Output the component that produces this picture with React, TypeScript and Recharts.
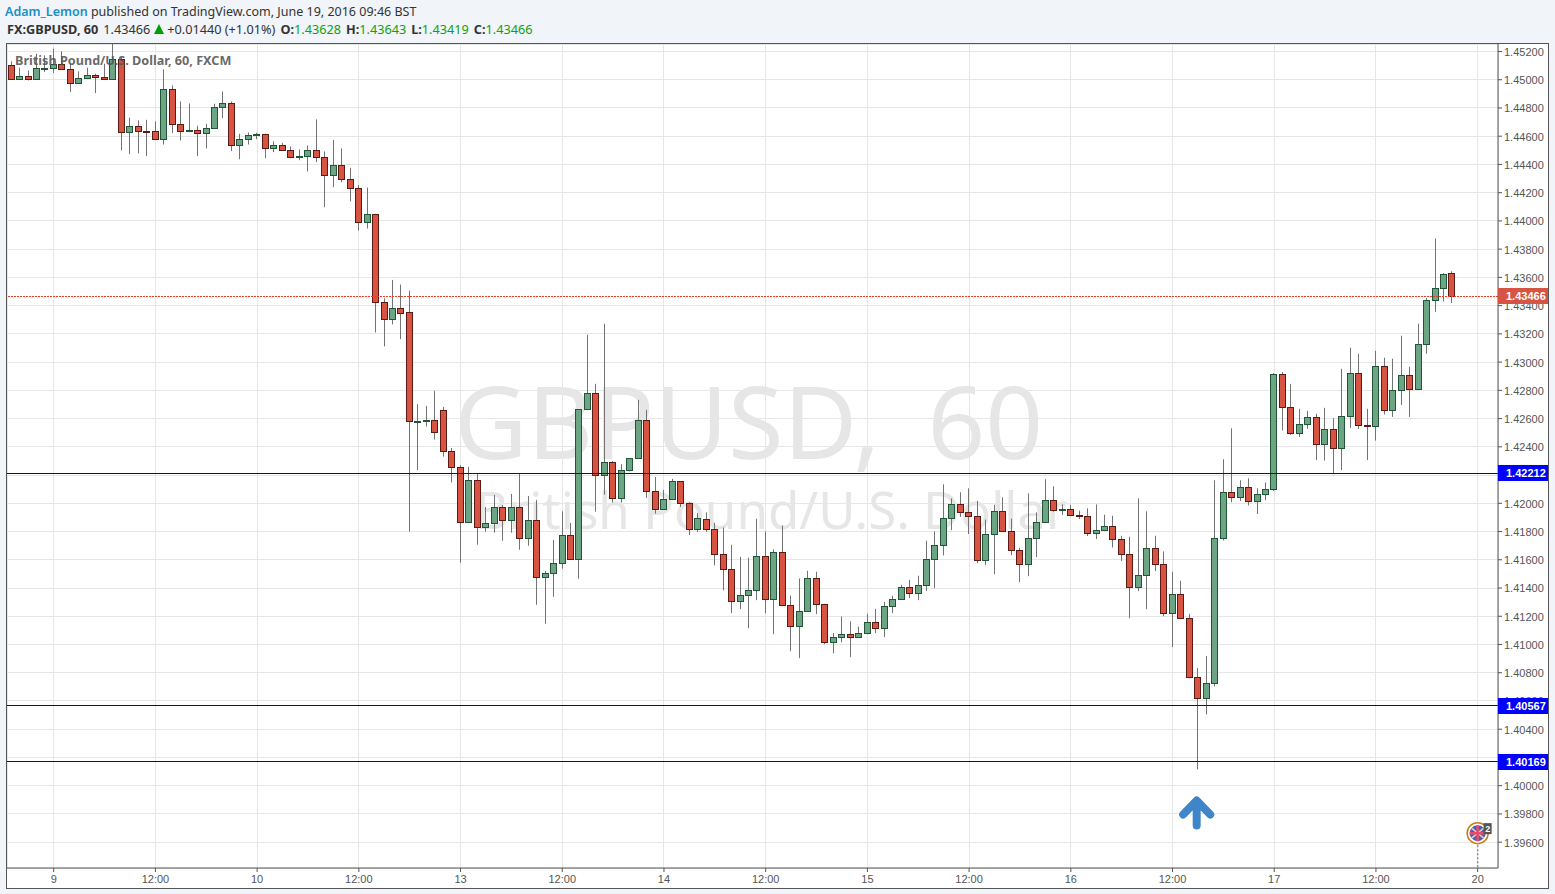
import { ComposedChart, Bar, XAxis, YAxis, CartesianGrid, ReferenceLine, ReferenceDot } from "recharts";

const opens = [
  1.45106, 1.45007, 1.45028, 1.45007, 1.45083, 1.45085, 1.45111, 1.45076, 1.44979, 1.45014, 1.45033, 1.45021, 1.45007, 1.45147, 1.44631, 1.44671, 1.4464, 1.44638, 1.44582, 1.44936,
  1.44688, 1.44638, 1.44643, 1.44622, 1.4466, 1.44809, 1.44837, 1.44539, 1.44582, 1.4461, 1.44617, 1.44518, 1.44539, 1.44504, 1.44454, 1.44461, 1.44504, 1.44454, 1.44326, 1.44397,
  1.44298, 1.44234, 1.43993, 1.4405, 1.43426, 1.43305, 1.43383, 1.43355, 1.42582, 1.4258, 1.42589, 1.4266, 1.42369, 1.42255, 1.41865, 1.42163, 1.4183, 1.41858, 1.41972, 1.41879,
  1.41972, 1.41752, 1.41879, 1.41475, 1.41504, 1.41575, 1.41773, 1.41603, 1.42667, 1.4278, 1.42199, 1.42291, 1.42035, 1.42234, 1.42319, 1.42589, 1.42085, 1.41957, 1.42028, 1.42156,
  1.42, 1.41816, 1.41891, 1.4182, 1.41643, 1.41536, 1.41309, 1.41352, 1.41387, 1.41628, 1.41323, 1.41657, 1.41281, 1.41132, 1.41238, 1.41472, 1.41288, 1.41018, 1.41054, 1.41075,
  1.41054, 1.41082, 1.4116, 1.41118, 1.41274, 1.41323, 1.41409, 1.41366, 1.41423, 1.41607, 1.41706, 1.41898, 1.41997, 1.4194, 1.41912, 1.416, 1.41784, 1.41948, 1.41806, 1.41671,
  1.41572, 1.41756, 1.41869, 1.42026, 1.41955, 1.41962, 1.41919, 1.41912, 1.41791, 1.41813, 1.41841, 1.41749, 1.41643, 1.41409, 1.41494, 1.41685, 1.41572, 1.41224, 1.41359, 1.41189,
  1.4077, 1.40621, 1.40728, 1.41756, 1.42082, 1.42044, 1.42118, 1.42016, 1.42068, 1.42104, 1.42915, 1.42681, 1.42496, 1.4256, 1.4261, 1.42418, 1.42525, 1.4239, 1.42617, 1.42922,
  1.42553, 1.42546, 1.42972, 1.4266, 1.42801, 1.42908, 1.42809, 1.43128, 1.4344, 1.43525, 1.43628,
];
const closes = [
  1.45007, 1.45028, 1.45007, 1.45083, 1.45085, 1.45111, 1.45078, 1.44979, 1.45012, 1.45035, 1.45019, 1.45007, 1.45147, 1.44631, 1.44671, 1.44638, 1.44638, 1.44582, 1.44936, 1.44688,
  1.44638, 1.44643, 1.44622, 1.44657, 1.44809, 1.44837, 1.44539, 1.44582, 1.4461, 1.44617, 1.44518, 1.44539, 1.44504, 1.44454, 1.44461, 1.44504, 1.44454, 1.44326, 1.44397, 1.44298,
  1.44234, 1.43993, 1.4405, 1.43426, 1.43305, 1.43383, 1.43348, 1.42582, 1.42584, 1.42587, 1.42504, 1.42369, 1.42255, 1.41865, 1.42163, 1.4183, 1.41858, 1.41972, 1.41879, 1.41972,
  1.41752, 1.41879, 1.41475, 1.41504, 1.41575, 1.41773, 1.41603, 1.42667, 1.4278, 1.42199, 1.42291, 1.42035, 1.42234, 1.42319, 1.42589, 1.42085, 1.41957, 1.42028, 1.42156, 1.42,
  1.41816, 1.41894, 1.4182, 1.41643, 1.41536, 1.41309, 1.41352, 1.41387, 1.41628, 1.41323, 1.41657, 1.41281, 1.41132, 1.41238, 1.41472, 1.41288, 1.41018, 1.41054, 1.41075, 1.41054,
  1.41082, 1.4116, 1.41118, 1.41274, 1.41323, 1.41409, 1.41366, 1.41423, 1.41607, 1.41706, 1.41898, 1.41997, 1.4194, 1.41912, 1.416, 1.41784, 1.41948, 1.41806, 1.41671, 1.41572,
  1.41756, 1.41869, 1.42026, 1.41955, 1.41959, 1.41919, 1.41912, 1.41791, 1.41813, 1.41841, 1.41749, 1.41643, 1.41409, 1.41494, 1.41685, 1.41572, 1.41224, 1.41359, 1.41189, 1.4077,
  1.40621, 1.40728, 1.41756, 1.42082, 1.42044, 1.42118, 1.42016, 1.42068, 1.42104, 1.42915, 1.42681, 1.42496, 1.4256, 1.4261, 1.42418, 1.42525, 1.4239, 1.42617, 1.42922, 1.42553,
  1.42544, 1.42972, 1.4266, 1.42801, 1.42908, 1.42809, 1.43128, 1.4344, 1.43525, 1.43624, 1.43466,
];
const highs = [
  1.4513, 1.45085, 1.45066, 1.45184, 1.45173, 1.4522, 1.45201, 1.45113, 1.45059, 1.45085, 1.45043, 1.45113, 1.45255, 1.45156, 1.44731, 1.44712, 1.44716, 1.44705, 1.45073, 1.4496,
  1.44846, 1.44832, 1.44674, 1.44688, 1.4483, 1.44917, 1.44846, 1.44617, 1.44626, 1.44624, 1.44617, 1.44563, 1.44553, 1.44527, 1.44506, 1.44534, 1.44719, 1.44492, 1.44574, 1.44513,
  1.44376, 1.44255, 1.44236, 1.4405, 1.43452, 1.43582, 1.43549, 1.43506, 1.42702, 1.4269, 1.42797, 1.42683, 1.42392, 1.4227, 1.42258, 1.42213, 1.41974, 1.42059, 1.41988, 1.42066,
  1.42213, 1.42052, 1.42024, 1.4152, 1.4174, 1.41943, 1.41861, 1.42667, 1.43194, 1.42846, 1.43272, 1.42298, 1.42277, 1.42319, 1.42733, 1.42662, 1.42187, 1.42095, 1.42173, 1.42156,
  1.42007, 1.41931, 1.41936, 1.41862, 1.41829, 1.41706, 1.41621, 1.41614, 1.41891, 1.41801, 1.41673, 1.41843, 1.41347, 1.41468, 1.41522, 1.41515, 1.41288, 1.41082, 1.41198, 1.41163,
  1.41127, 1.41217, 1.41252, 1.41302, 1.41345, 1.41423, 1.41458, 1.41487, 1.41735, 1.41801, 1.42134, 1.42035, 1.42078, 1.42106, 1.42018, 1.41884, 1.4199, 1.42042, 1.41891, 1.41685,
  1.4207, 1.41936, 1.4217, 1.4212, 1.41992, 1.4199, 1.41948, 1.41964, 1.41992, 1.41919, 1.41912, 1.4177, 1.41763, 1.42035, 1.41943, 1.4177, 1.41659, 1.41515, 1.41451, 1.41217,
  1.40834, 1.40919, 1.42163, 1.42312, 1.42531, 1.42163, 1.42177, 1.42106, 1.42148, 1.42922, 1.42929, 1.42846, 1.42669, 1.42655, 1.42634, 1.42676, 1.42603, 1.42953, 1.43102, 1.43059,
  1.42669, 1.4308, 1.43031, 1.43024, 1.43187, 1.42967, 1.43272, 1.43454, 1.43875, 1.43631, 1.43643,
];
const lows = [
  1.45005, 1.45002, 1.44995, 1.45005, 1.45054, 1.45047, 1.45078, 1.44913, 1.44979, 1.45012, 1.44905, 1.45005, 1.45005, 1.44499, 1.44473, 1.44478, 1.44459, 1.44582, 1.44541, 1.44622,
  1.4457, 1.44638, 1.44459, 1.44513, 1.4466, 1.44728, 1.44494, 1.44437, 1.44541, 1.44579, 1.44444, 1.44487, 1.44504, 1.44444, 1.4443, 1.4435, 1.44416, 1.44097, 1.44239, 1.44274,
  1.44139, 1.43931, 1.43946, 1.4321, 1.43111, 1.43267, 1.43163, 1.41799, 1.42236, 1.42544, 1.42452, 1.42331, 1.42147, 1.41579, 1.41865, 1.41707, 1.41799, 1.41792, 1.41735, 1.41792,
  1.41671, 1.417, 1.41281, 1.41147, 1.41338, 1.41537, 1.41603, 1.41466, 1.42667, 1.41941, 1.42061, 1.42005, 1.42005, 1.42225, 1.42319, 1.42038, 1.41927, 1.41957, 1.42028, 1.41974,
  1.41775, 1.41797, 1.41796, 1.4156, 1.41383, 1.41222, 1.4125, 1.41115, 1.41314, 1.41222, 1.41073, 1.41271, 1.40952, 1.40903, 1.41238, 1.41215, 1.41002, 1.40938, 1.41016, 1.4091,
  1.41054, 1.41073, 1.4108, 1.41052, 1.41222, 1.41316, 1.41328, 1.41314, 1.41378, 1.41399, 1.41631, 1.4181, 1.41903, 1.41782, 1.41576, 1.41562, 1.41498, 1.41806, 1.41633, 1.41442,
  1.41484, 1.41619, 1.41869, 1.4194, 1.41917, 1.41919, 1.41888, 1.41768, 1.41747, 1.41803, 1.41687, 1.41591, 1.41186, 1.41378, 1.4125, 1.4152, 1.412, 1.40981, 1.41179, 1.40761,
  1.40115, 1.40505, 1.40704, 1.41737, 1.42007, 1.42016, 1.41985, 1.41924, 1.42021, 1.42087, 1.42515, 1.42485, 1.4247, 1.42527, 1.42307, 1.42303, 1.4221, 1.42236, 1.42534, 1.42527,
  1.42307, 1.42444, 1.42629, 1.42612, 1.42697, 1.42612, 1.42809, 1.43059, 1.43357, 1.4343, 1.43419,
];

const priceTicks = [
  1.396, 1.398, 1.4, 1.402, 1.404, 1.406, 1.408, 1.41, 1.412, 1.414, 1.416, 1.418, 1.42, 1.422, 1.424, 1.426, 1.428, 1.43, 1.432, 1.434, 1.436, 1.438, 1.44, 1.442, 1.444, 1.446, 1.448, 1.45, 1.452,
];
const timeTicks = [5, 17, 29, 41, 53, 65, 77, 89, 101, 113, 125, 137, 149, 161, 173];
const timeLabels = ["9", "12:00", "10", "12:00", "13", "12:00", "14", "12:00", "15", "12:00", "16", "12:00", "17", "12:00", "20"];

const lastPrice = 1.43466;
const levels = [1.42212, 1.40567, 1.40169];
const priceDomain = [1.39417, 1.45253];

const candles = opens.map((open, i) => ({ idx: i, open, close: closes[i], high: highs[i], low: lows[i], range: [lows[i], highs[i]] }));

const AXIS_FONT = "'Liberation Sans', Arial, sans-serif";
const HEAD_FONT = "'Noto Sans', sans-serif";
const GREEN = "#0ca30c";

function Candle(props: any) {
  const { x, y, width, height, payload } = props;
  const perPrice = height / (payload.high - payload.low);
  const up = payload.close >= payload.open;
  const cx = Math.round(x + width / 2 - 1);
  const top = Math.round(y + (payload.high - Math.max(payload.open, payload.close)) * perPrice);
  const bottom = Math.round(y + (payload.high - Math.min(payload.open, payload.close)) * perPrice);
  return (
    <g>
      <line x1={cx + 0.5} x2={cx + 0.5} y1={y} y2={y + height} stroke="#737375" strokeWidth={1} />
      <rect x={cx - 2.5} y={top + 0.5} width={6} height={Math.max(bottom - top, 1)} fill={up ? "#6ba583" : "#d75442"} stroke={up ? "#225437" : "#5b1a13"} strokeWidth={1} />
    </g>
  );
}

// drawn by a second axis so the tags sit on top of the normal tick labels
function PriceTag({ y, payload }: any) {
  const value = payload.value;
  return (
    <g>
      <rect x={1498} y={Math.round(y) - 8} width={50} height={16} fill={value === lastPrice ? "#d75442" : "#0000ff"} />
      <text x={1506} y={Math.round(y) + 4} fontFamily={AXIS_FONT} fontSize={11} fontWeight="bold" fill="#fff">{value.toFixed(5)}</text>
    </g>
  );
}

function UpArrow({ cx, cy }: any) {
  return (
    <path d={`M${cx} ${cy + 13}V${cy - 10}M${cx - 13.5} ${cy + 2}L${cx} ${cy - 12}L${cx + 13.5} ${cy + 2}`} fill="none" stroke="#3f86c9" strokeWidth={8} strokeLinecap="round" strokeLinejoin="round" />
  );
}

function FlagEvent({ cx, cy }: any) {
  return (
    <g>
      <line x1={cx} x2={cx} y1={cy + 12} y2={868} stroke="#8a8a8a" strokeWidth={1.5} strokeDasharray="2 2" />
      <circle cx={cx} cy={cy} r={10.5} fill="#fff" stroke="#d07a0c" strokeWidth={1.5} />
      <circle cx={cx} cy={cy} r={8} fill="#4a62ad" />
      <path d={`M${cx - 6} ${cy - 5}L${cx + 6} ${cy + 5}M${cx - 6} ${cy + 5}L${cx + 6} ${cy - 5}`} stroke="#e3c6d0" strokeWidth={1.5} />
      <path d={`M${cx} ${cy - 8}V${cy + 8}M${cx - 8} ${cy}H${cx + 8}`} stroke="#ee4a68" strokeWidth={2.5} />
      <rect x={cx + 6} y={cy - 10} width={8} height={11} fill="#555" />
      <text x={cx + 10} y={cy - 1} textAnchor="middle" fontFamily={AXIS_FONT} fontSize={9} fontWeight="bold" fill="#fff">2</text>
    </g>
  );
}

function Header() {
  return (
    <>
      <div style={{ position: "absolute", left: 5, top: 3, fontFamily: HEAD_FONT, fontSize: 12.5, lineHeight: "17px", color: "#333", whiteSpace: "nowrap" }}>
        <span style={{ color: "#1a8fc4", fontWeight: 600 }}>Adam_Lemon</span> published on TradingView.com, June 19, 2016 09:46 BST
      </div>
      <div style={{ position: "absolute", left: 7, top: 21, fontFamily: HEAD_FONT, fontSize: 12.7, lineHeight: "17px", color: "#333", whiteSpace: "nowrap" }}>
        <b>FX:GBPUSD, 60</b>
        <span style={{ marginLeft: 5 }}>1.43466</span>
        <span style={{ display: "inline-block", marginLeft: 4, marginRight: 3, width: 0, height: 0, borderLeft: "5px solid transparent", borderRight: "5px solid transparent", borderBottom: "10px solid #00a000" }} />
        <span>+0.01440 (+1.01%)</span>
        <b style={{ marginLeft: 5 }}>O:</b><span style={{ color: GREEN }}>1.43628</span>
        <b style={{ marginLeft: 5 }}>H:</b><span style={{ color: GREEN }}>1.43643</span>
        <b style={{ marginLeft: 5 }}>L:</b><span style={{ color: GREEN }}>1.43419</span>
        <b style={{ marginLeft: 5 }}>C:</b><span style={{ color: GREEN }}>1.43466</span>
      </div>
    </>
  );
}

export default function App() {
  return (
    <div style={{ position: "absolute", left: 0, top: 0, width: 1555, height: 894, background: "#f1f4f8", overflow: "hidden" }}>
      <Header />
      <div style={{ position: "absolute", left: 6, top: 43, width: 1541, height: 844, background: "#fff", border: "1px solid #555" }} />
      <div style={{ position: "absolute", left: 454, top: 360, fontFamily: HEAD_FONT, fontSize: 101, lineHeight: "120px", wordSpacing: 21, color: "#e6e6e6", whiteSpace: "nowrap" }}>GBPUSD, 60</div>
      <div style={{ position: "absolute", left: 475, top: 479, fontFamily: HEAD_FONT, fontSize: 51, lineHeight: "60px", color: "#e6e6e6", whiteSpace: "nowrap" }}>British Pound/U.S. Dollar</div>
      <div style={{ position: "absolute", left: 0, top: 0 }}>
        <ComposedChart width={1555} height={894} data={candles} margin={{ top: 44, left: 7, right: 6, bottom: 6 }}>
          <CartesianGrid stroke="#e6e6e6" shapeRendering="crispEdges" />
          <XAxis
            type="number"
            dataKey="idx"
            domain={[-0.51, 175.4]}
            ticks={timeTicks}
            interval={0}
            height={20}
            tickFormatter={(v: number) => timeLabels[timeTicks.indexOf(v)]}
            tick={{ fontSize: 11, fill: "#555", fontFamily: AXIS_FONT, dy: 1 }}
            tickSize={4}
            stroke="#555"
          />
          <YAxis
            orientation="right"
            type="number"
            domain={priceDomain}
            allowDataOverflow
            ticks={priceTicks}
            interval={0}
            width={50}
            tickFormatter={(v: number) => v.toFixed(5)}
            tick={{ fontSize: 11, fill: "#555", fontFamily: AXIS_FONT, dy: 0.5 }}
            tickSize={4}
            stroke="#555"
          />
          <YAxis
            yAxisId="tags"
            orientation="right"
            type="number"
            domain={priceDomain}
            allowDataOverflow
            ticks={[...levels, lastPrice]}
            interval={0}
            width={1}
            axisLine={false}
            tickLine={false}
            tick={<PriceTag />}
          />
          {levels.map((level) => (
            <ReferenceLine key={level} y={level} stroke="#0000cc" strokeWidth={1} shapeRendering="crispEdges" />
          ))}
          <ReferenceLine y={lastPrice} stroke="#f03a28" strokeWidth={1} strokeDasharray="2 1" shapeRendering="crispEdges" />
          <Bar dataKey="range" barSize={7} shape={<Candle />} isAnimationActive={false} />
          <ReferenceDot x={139.85} y={1.3981} shape={<UpArrow />} />
          <ReferenceDot x={173} y={1.39664} shape={<FlagEvent />} />
        </ComposedChart>
      </div>
      <div style={{ position: "absolute", left: 15, top: 52, fontFamily: HEAD_FONT, fontSize: 12.65, lineHeight: "17px", fontWeight: 700, color: "rgba(85,85,85,0.9)", whiteSpace: "nowrap" }}>
        British Pound/U.S. Dollar, 60, FXCM
      </div>
    </div>
  );
}
